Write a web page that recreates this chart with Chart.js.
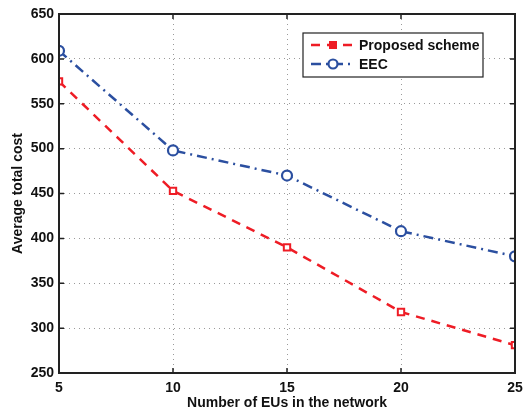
<!DOCTYPE html>
<html>
<head>
<meta charset="utf-8">
<script src="https://cdn.jsdelivr.net/npm/chart.js@4"></script>
<style>
  html, body { margin: 0; padding: 0; background: #fff; }
  #wrap { width: 523px; height: 412px; }
</style>
</head>
<body>
<div id="wrap"><canvas id="chart" width="523" height="412"></canvas></div>
<script>
const users = [5, 10, 15, 20, 25];
const proposed = [575, 453, 390, 318, 281];
const eec = [609, 498, 470, 408, 380];
const yTicks = [250, 300, 350, 400, 450, 500, 550, 600, 650];

const FONT = "'Liberation Sans', Arial, sans-serif";

// box around the plot + inner tick marks, matlab style
const boxPlugin = {
  id: "box",
  afterDraw(chart) {
    const { ctx, chartArea: a, scales } = chart;
    ctx.save();
    ctx.strokeStyle = "#222";
    ctx.lineWidth = 1.5;
    scales.x.ticks.forEach(t => {
      const x = scales.x.getPixelForValue(t.value);
      ctx.beginPath();
      ctx.moveTo(x, a.bottom); ctx.lineTo(x, a.bottom - 5);
      ctx.moveTo(x, a.top); ctx.lineTo(x, a.top + 5);
      ctx.stroke();
    });
    scales.y.ticks.forEach(t => {
      const y = scales.y.getPixelForValue(t.value);
      ctx.beginPath();
      ctx.moveTo(a.left, y); ctx.lineTo(a.left + 5, y);
      ctx.moveTo(a.right, y); ctx.lineTo(a.right - 5, y);
      ctx.stroke();
    });
    ctx.lineWidth = 2;
    ctx.strokeRect(a.left, a.top, a.right - a.left, a.bottom - a.top);
    ctx.restore();
  }
};

// legend box inside the plot, top right
const legendPlugin = {
  id: "boxLegend",
  afterDraw(chart) {
    const { ctx } = chart;
    const x0 = 303, y0 = 33, w = 180, h = 44;
    ctx.save();
    ctx.fillStyle = "#fff";
    ctx.fillRect(x0, y0, w, h);
    ctx.strokeStyle = "#222";
    ctx.lineWidth = 1.2;
    ctx.strokeRect(x0, y0, w, h);
    chart.data.datasets.forEach((ds, i) => {
      const cy = y0 + 12 + i * 19;
      const mx = x0 + 30;
      ctx.strokeStyle = ds.borderColor;
      ctx.lineWidth = ds.borderWidth;
      ctx.setLineDash(ds.borderDash);
      ctx.beginPath();
      ctx.moveTo(x0 + 8, cy); ctx.lineTo(x0 + 52, cy);
      ctx.stroke();
      ctx.setLineDash([]);
      ctx.lineWidth = ds.pointBorderWidth;
      ctx.fillStyle = ds.pointBackgroundColor;
      if (ds.pointStyle === "rect") {
        ctx.fillStyle = ds.borderColor;
        ctx.fillRect(mx - 4, cy - 4, 8, 8);
      } else {
        ctx.beginPath();
        ctx.arc(mx, cy, 4.5, 0, Math.PI * 2);
        ctx.fill(); ctx.stroke();
      }
      ctx.fillStyle = "#111";
      ctx.font = "bold 14px " + FONT;
      ctx.textBaseline = "middle";
      ctx.fillText(ds.label, x0 + 56, cy + 1);
    });
    ctx.restore();
  }
};

new Chart(document.getElementById("chart"), {
  type: "line",
  data: {
    datasets: [
      {
        label: "Proposed scheme",
        data: users.map((u, i) => ({ x: u, y: proposed[i] })),
        borderColor: "#ee1c25",
        borderWidth: 2.5,
        borderDash: [9, 7],
        pointStyle: "rect",
        pointRadius: 4.5,
        pointBorderWidth: 2,
        pointBorderColor: "#ee1c25",
        pointBackgroundColor: "#fff",
        tension: 0
      },
      {
        label: "EEC",
        data: users.map((u, i) => ({ x: u, y: eec[i] })),
        borderColor: "#2b4fa0",
        borderWidth: 2.5,
        borderDash: [10, 5, 2, 5],
        pointStyle: "circle",
        pointRadius: 5,
        pointBorderWidth: 2.2,
        pointBorderColor: "#2b4fa0",
        pointBackgroundColor: "#fff",
        tension: 0
      }
    ]
  },
  options: {
    responsive: false,
    animation: false,
    layout: { padding: { top: 14, right: 8, left: 10, bottom: 0 } },
    plugins: { legend: { display: false }, tooltip: { enabled: false } },
    scales: {
      x: {
        type: "linear",
        min: 5, max: 25,
        afterFit(s) { s.height = 39; s.paddingLeft = 0; s.paddingRight = 0; },
        ticks: { stepSize: 5, color: "#111", padding: 7, font: { family: FONT, size: 14, weight: "bold" } },
        grid: { color: "#9a9a9a", lineWidth: 1, drawTicks: false },
        border: { display: false, dash: [1, 4] },
        title: { display: true, text: "Number of EUs in the network", color: "#111", padding: { top: 2, bottom: 0 }, font: { family: FONT, size: 14, weight: "bold" } }
      },
      y: {
        min: 250, max: 650,
        afterFit(s) { s.width = 49; s.paddingTop = 0; s.paddingBottom = 0; },
        afterBuildTicks(s) { s.ticks = yTicks.map(v => ({ value: v })); },
        ticks: { color: "#111", padding: 5, font: { family: FONT, size: 14, weight: "bold" } },
        grid: { color: "#9a9a9a", lineWidth: 1, drawTicks: false },
        border: { display: false, dash: [1, 4] },
        title: { display: true, text: "Average total cost", color: "#111", padding: { top: 0, bottom: 2 }, font: { family: FONT, size: 14, weight: "bold" } }
      }
    }
  },
  plugins: [boxPlugin, legendPlugin]
});
</script>
</body>
</html>
